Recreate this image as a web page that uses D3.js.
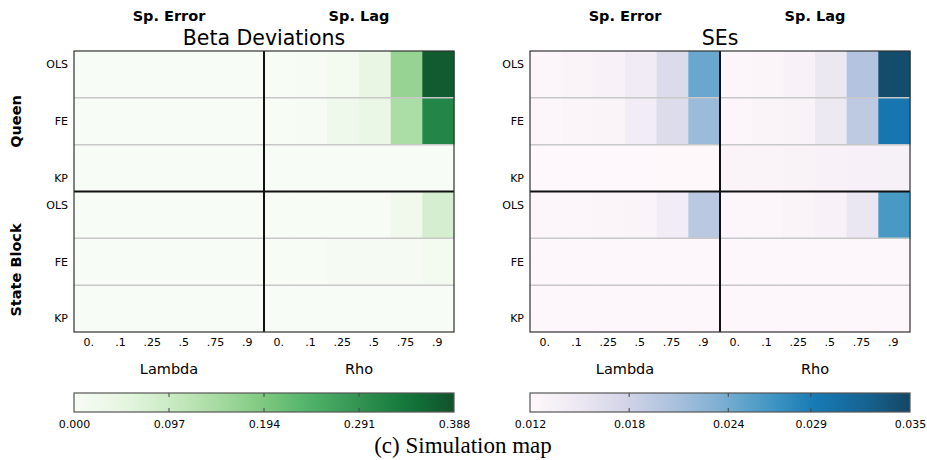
<!DOCTYPE html>
<html>
<head>
<meta charset="utf-8">
<script src="https://cdn.jsdelivr.net/npm/d3@7"></script>
<style>
  body { margin: 0; background: #fff; }
  text { font-family: "DejaVu Sans", sans-serif; fill: #000; }
</style>
</head>
<body>
<div id="chart"></div>
<script>
    // categories
    var models = ["OLS", "FE", "KP"];
    var weights = ["Queen", "State Block"];
    var processes = ["Sp. Error", "Sp. Lag"];
    var xTicks = ["0.", ".1", ".25", ".5", ".75", ".9"];
    var xTitles = ["Lambda", "Rho"];

    // beta deviations: each row = 6 Sp. Error values then 6 Sp. Lag values
    var betaQueen = [
      [0.001, 0.001, 0.001, 0.001, 0.001, 0.001, 0.002, 0.006, 0.014, 0.047, 0.165, 0.375],
      [0.001, 0.001, 0.001, 0.001, 0.001, 0.001, 0.002, 0.006, 0.026, 0.040, 0.140, 0.315],
      [0.001, 0.001, 0.001, 0.001, 0.001, 0.001, 0.001, 0.001, 0.001, 0.001, 0.001, 0.001]
    ];
    var betaState = [
      [0.001, 0.001, 0.001, 0.001, 0.001, 0.001, 0.002, 0.002, 0.002, 0.002, 0.020, 0.080],
      [0.001, 0.001, 0.001, 0.001, 0.001, 0.001, 0.002, 0.002, 0.008, 0.008, 0.008, 0.013],
      [0.001, 0.001, 0.001, 0.001, 0.001, 0.001, 0.001, 0.001, 0.001, 0.001, 0.001, 0.001]
    ];

    // standard errors
    var seQueen = [
      [0.0125, 0.0127, 0.0130, 0.0143, 0.0168, 0.0245, 0.0125, 0.0126, 0.0130, 0.0150, 0.0202, 0.0345],
      [0.0124, 0.0126, 0.0128, 0.0142, 0.0167, 0.0217, 0.0125, 0.0127, 0.0129, 0.0148, 0.0194, 0.0298],
      [0.0121, 0.0121, 0.0121, 0.0121, 0.0120, 0.0120, 0.0128, 0.0128, 0.0129, 0.0130, 0.0134, 0.0135]
    ];
    var seState = [
      [0.0124, 0.0124, 0.0126, 0.0128, 0.0142, 0.0196, 0.0124, 0.0124, 0.0127, 0.0130, 0.0152, 0.0262],
      [0.0123, 0.0123, 0.0123, 0.0123, 0.0123, 0.0123, 0.0123, 0.0123, 0.0123, 0.0123, 0.0123, 0.0123],
      [0.0123, 0.0123, 0.0123, 0.0123, 0.0123, 0.0123, 0.0123, 0.0123, 0.0123, 0.0123, 0.0123, 0.0123]
    ];

    // colorbar ticks
    var betaTicks = [0.000, 0.097, 0.194, 0.291, 0.388];
    var seTicks = [0.012, 0.018, 0.024, 0.029, 0.035];

    var W = 927, H = 460;
    var plotTop = 51, plotBottom = 332;
    var cellAlpha = 0.93;

    var svg = d3.select("#chart")
      .append("svg")
      .attr("width", W)
      .attr("height", H);

    // piecewise-linear colormap like matplotlib
    function makeColor(scheme, lo, hi) {
      var n = scheme.length;
      return d3.scaleLinear()
        .domain(d3.range(n).map(function (i) { return lo + (hi - lo) * i / (n - 1); }))
        .range(scheme)
        .clamp(true);
    }

    function panel(x0, x1, title, blocks, color, ticks, showWeights) {
      var g = svg.append("g");

      var cols = [];
      processes.forEach(function (p) {
        xTicks.forEach(function (t) { cols.push(p + "|" + t); });
      });
      var x = d3.scaleBand().domain(cols).range([x0, x1]);
      var yBlock = d3.scaleBand().domain(weights).range([plotTop, plotBottom]);
      var mid = (x0 + x1) / 2;

      // cells
      weights.forEach(function (w, wi) {
        var y = d3.scaleBand().domain(models)
          .range([yBlock(w), yBlock(w) + yBlock.bandwidth()]);
        var rows = blocks[wi];
        rows.forEach(function (row, ri) {
          g.selectAll(null)
            .data(row)
            .enter()
            .append("rect")
            .attr("x", function (d, i) { return x(cols[i]); })
            .attr("y", y(models[ri]))
            .attr("width", x.bandwidth() + 0.5)
            .attr("height", y.bandwidth() + 0.5)
            .attr("fill", function (d) { return color(d); })
            .attr("fill-opacity", cellAlpha);
        });

        // thin row separators
        g.selectAll(null)
          .data(models.slice(1))
          .enter()
          .append("line")
          .attr("x1", x0).attr("x2", x1)
          .attr("y1", function (m) { return y(m); })
          .attr("y2", function (m) { return y(m); })
          .attr("stroke", "#c8c8c8")
          .attr("stroke-width", 1.5);

        // row labels (spread a bit wider than the rows)
        var yLab = d3.scalePoint().domain(models)
          .range([yBlock(w), yBlock(w) + yBlock.bandwidth()])
          .padding(0.237);
        g.selectAll(null)
          .data(models)
          .enter()
          .append("text")
          .attr("x", x0 - 6)
          .attr("y", function (m) { return yLab(m); })
          .attr("dy", "0.35em")
          .attr("text-anchor", "end")
          .attr("font-size", 11)
          .text(function (m) { return m; });
      });

      // thick dividers
      g.append("line")
        .attr("x1", x0).attr("x2", x1)
        .attr("y1", yBlock(weights[1])).attr("y2", yBlock(weights[1]))
        .attr("stroke", "#111").attr("stroke-width", 2);
      g.append("line")
        .attr("x1", mid).attr("x2", mid)
        .attr("y1", plotTop).attr("y2", plotBottom)
        .attr("stroke", "#111").attr("stroke-width", 2);

      // frame
      g.append("rect")
        .attr("x", x0).attr("y", plotTop)
        .attr("width", x1 - x0).attr("height", plotBottom - plotTop)
        .attr("fill", "none")
        .attr("stroke", "#333")
        .attr("stroke-width", 1.2);

      // x tick labels
      g.selectAll(null)
        .data(cols)
        .enter()
        .append("text")
        .attr("x", function (c) { return x(c) + x.bandwidth() / 2 - 1; })
        .attr("y", 346)
        .attr("text-anchor", "middle")
        .attr("font-size", 11)
        .text(function (c) { return c.split("|")[1]; });

      // process headers and x titles
      processes.forEach(function (p, i) {
        var cx = i === 0 ? (x0 + mid) / 2 : (mid + x1) / 2;
        g.append("text")
          .attr("x", cx).attr("y", 21)
          .attr("text-anchor", "middle")
          .attr("font-size", 14.5)
          .attr("font-weight", "bold")
          .text(p);
        g.append("text")
          .attr("x", cx).attr("y", 374)
          .attr("text-anchor", "middle")
          .attr("font-size", 14.5)
          .text(xTitles[i]);
      });

      // title
      g.append("text")
        .attr("x", mid).attr("y", 45)
        .attr("text-anchor", "middle")
        .attr("font-size", 20.5)
        .text(title);

      // weight labels
      if (showWeights) {
        var wy = [121.5, 270];
        weights.forEach(function (w, i) {
          g.append("text")
            .attr("transform", "translate(21," + wy[i] + ")rotate(-90)")
            .attr("text-anchor", "middle")
            .attr("font-size", 14.5)
            .attr("font-weight", "bold")
            .text(w);
        });
      }

      // colorbar
      var cbTop = 393, cbH = 19;
      var cx = d3.scaleLinear().domain([ticks[0], ticks[ticks.length - 1]]).range([x0, x1]);
      var grad = svg.append("defs").append("linearGradient")
        .attr("id", "grad" + x0)
        .attr("x1", "0%").attr("x2", "100%");
      d3.range(0, 1.0001, 0.05).forEach(function (t) {
        grad.append("stop")
          .attr("offset", (t * 100) + "%")
          .attr("stop-color", color(cx.invert(x0 + t * (x1 - x0))))
          .attr("stop-opacity", cellAlpha);
      });
      g.append("rect")
        .attr("x", x0).attr("y", cbTop)
        .attr("width", x1 - x0).attr("height", cbH)
        .attr("fill", "url(#grad" + x0 + ")")
        .attr("stroke", "#555")
        .attr("stroke-width", 1.2);
      var cbAxis = g.append("g")
        .attr("transform", "translate(0," + (cbTop + cbH) + ")")
        .call(d3.axisBottom(cx).tickValues(ticks).tickFormat(d3.format(".3f"))
          .tickSizeInner(0).tickSizeOuter(0).tickPadding(8));
      cbAxis.select(".domain").remove();
      cbAxis.selectAll("text")
        .attr("font-size", 11)
        .attr("font-family", "DejaVu Sans, sans-serif");
      // inner tick marks at top and bottom edges
      var inner = ticks.slice(1, -1);
      [[cbTop, cbTop + 4], [cbTop + cbH - 4, cbTop + cbH]].forEach(function (yy) {
        g.selectAll(null)
          .data(inner)
          .enter()
          .append("line")
          .attr("x1", function (d) { return cx(d); })
          .attr("x2", function (d) { return cx(d); })
          .attr("y1", yy[0]).attr("y2", yy[1])
          .attr("stroke", "#444");
      });
    }

    var betaColor = makeColor(d3.schemeGreens[9], betaTicks[0], betaTicks[4]);
    var seColor = makeColor(d3.schemePuBu[9], seTicks[0], seTicks[4]);

    panel(74, 454, "Beta Deviations", [betaQueen, betaState], betaColor, betaTicks, true);
    panel(530, 910, "SEs", [seQueen, seState], seColor, seTicks, false);

    // caption
    svg.append("text")
      .attr("x", 463).attr("y", 453)
      .attr("text-anchor", "middle")
      .attr("font-size", 23)
      .style("font-family", "'Liberation Serif', serif")
      .text("(c) Simulation map");
</script>
</body>
</html>
